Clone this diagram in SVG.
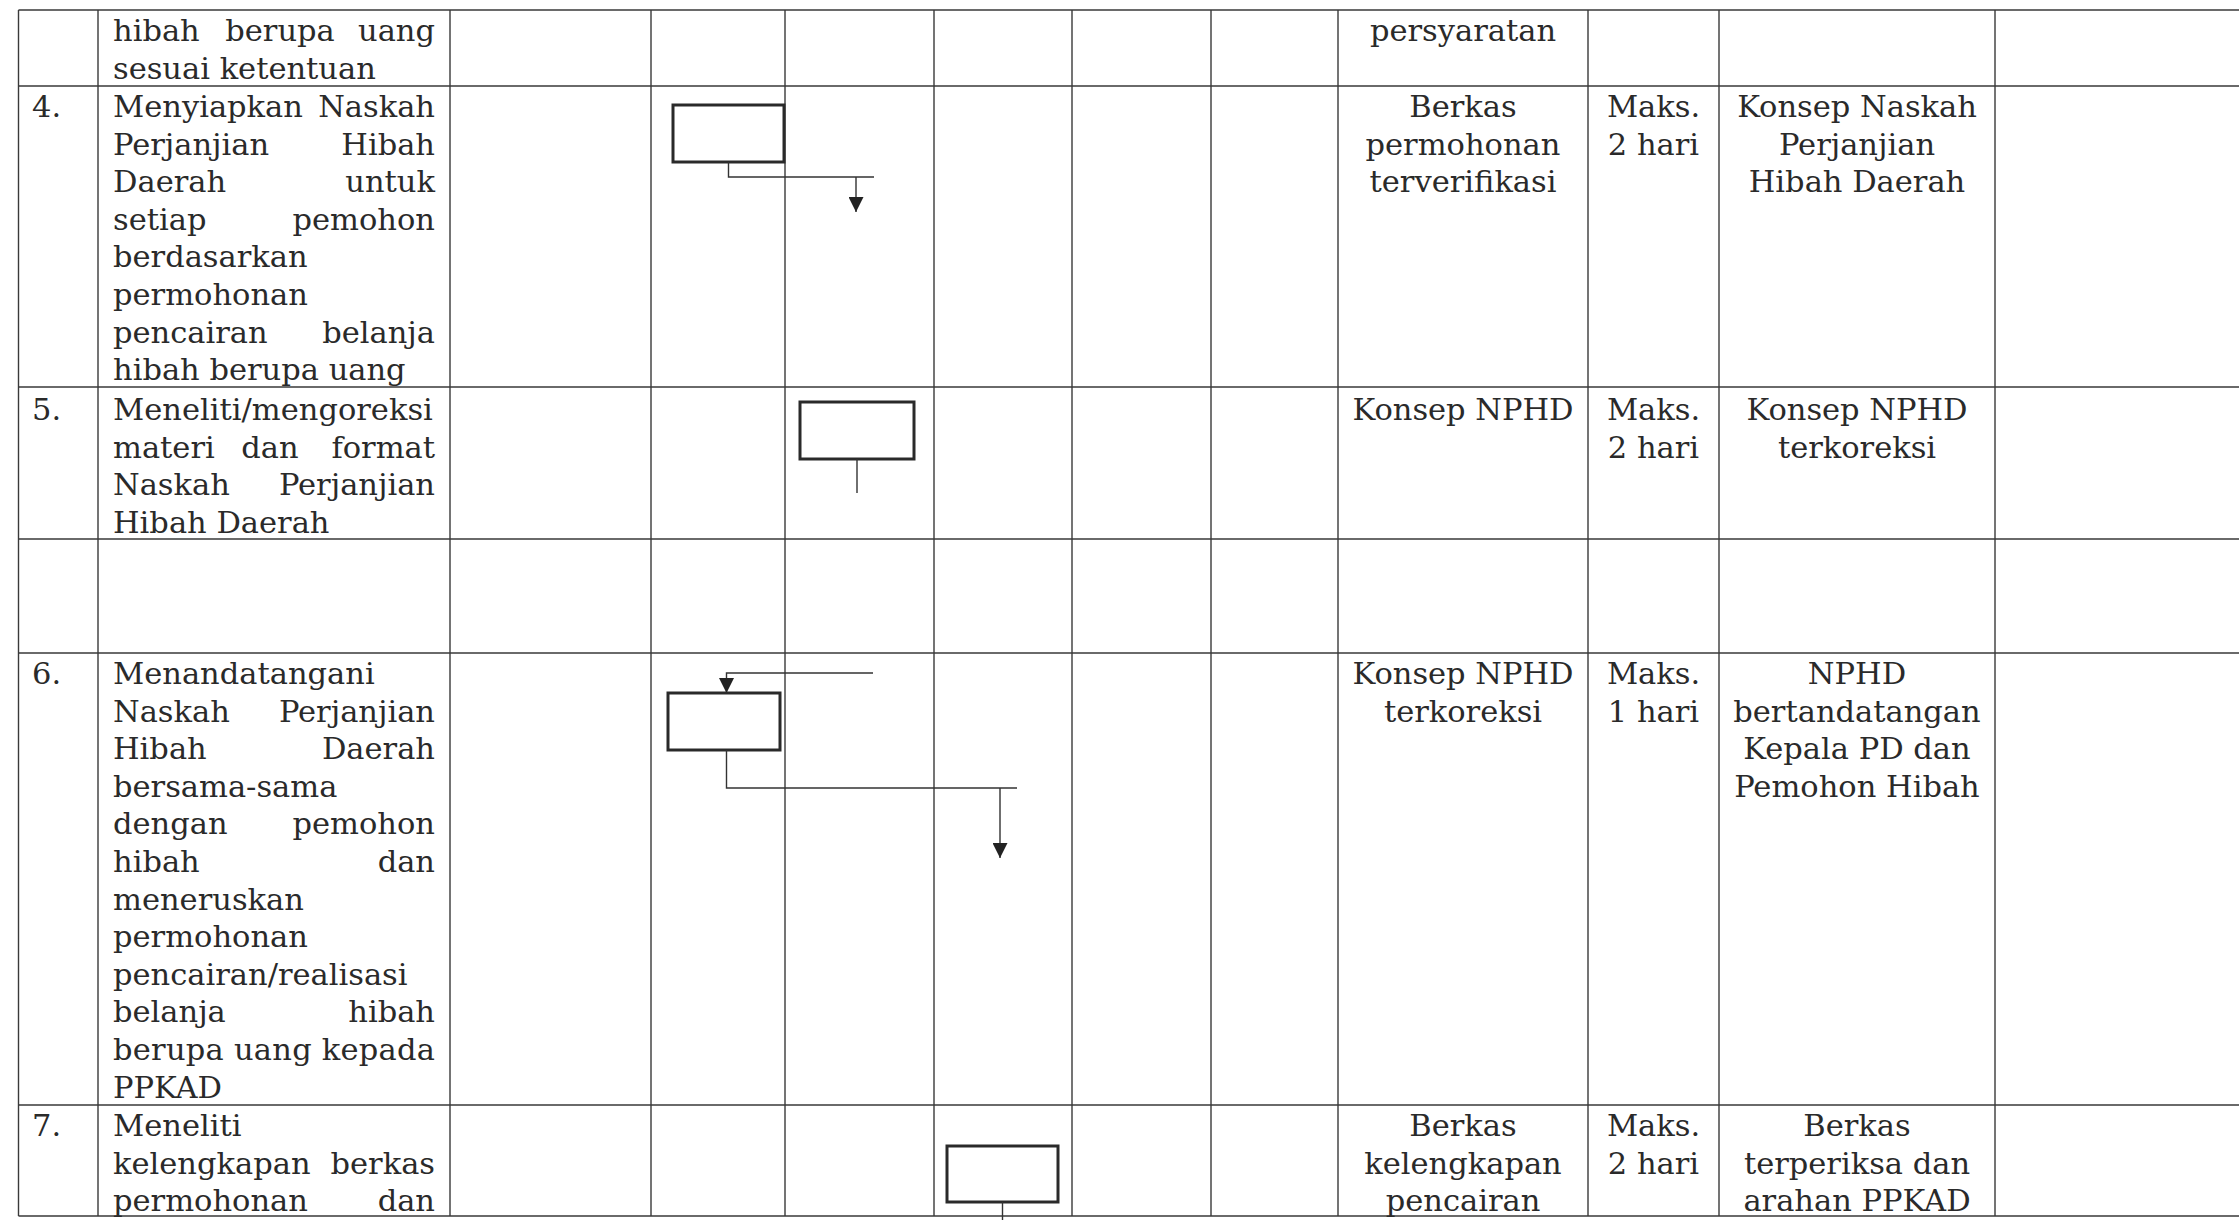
<svg xmlns="http://www.w3.org/2000/svg" width="2239" height="1220" viewBox="0 0 2239 1220">
<style>
.bg{fill:#ffffff}
.g{stroke:#3a3a3a;stroke-width:1.4;fill:none}
.box{fill:none;stroke:#2a2a2a;stroke-width:3}
.cn{fill:none;stroke:#333;stroke-width:1.4}
.t{font-family:"DejaVu Serif","Liberation Serif",serif;font-size:30.5px;fill:#2a2a2a}
.c{text-anchor:middle}
.e{text-anchor:end}
</style>
<defs>
<marker id="ah" viewBox="0 0 10 10" refX="10" refY="5" markerUnits="userSpaceOnUse" markerWidth="18" markerHeight="15" orient="auto">
<path d="M0,0 L10,5 L0,10 z" fill="#222"/>
</marker>
</defs>
<rect class="bg" x="0" y="0" width="2239" height="1220"/>
<g id="grid" class="g">
<path d="M18.5,10 H2239 M18.5,86 H2239 M18.5,387 H2239 M18.5,539 H2239 M18.5,653 H2239 M18.5,1105 H2239 M18.5,1216 H2239"/>
<path d="M18.5,10 V1216 M98,10 V1216 M450,10 V1216 M651,10 V1216 M785,10 V1216 M934,10 V1216 M1072,10 V1216 M1211,10 V1216 M1338,10 V1216 M1588,10 V1216 M1719,10 V1216 M1995,10 V1216"/>
</g>
<g id="row3-text">
<text class="t" x="113" y="41">hibah</text><text class="t c" x="280" y="41">berupa</text><text class="t e" x="435" y="41">uang</text>
<text class="t" x="113" y="79">sesuai ketentuan</text>
<text class="t c" x="1463" y="41">persyaratan</text>
</g>
<g id="row4-text">
<text class="t" x="32" y="117">4.</text>
<text class="t" x="113" y="117">Menyiapkan</text><text class="t e" x="435" y="117">Naskah</text>
<text class="t" x="113" y="154.6">Perjanjian</text><text class="t e" x="435" y="154.6">Hibah</text>
<text class="t" x="113" y="192.2">Daerah</text><text class="t e" x="435" y="192.2">untuk</text>
<text class="t" x="113" y="229.8">setiap</text><text class="t e" x="435" y="229.8">pemohon</text>
<text class="t" x="113" y="267.4">berdasarkan</text>
<text class="t" x="113" y="305">permohonan</text>
<text class="t" x="113" y="342.6">pencairan</text><text class="t e" x="435" y="342.6">belanja</text>
<text class="t" x="113" y="380.2">hibah berupa uang</text>
<text class="t c" x="1463" y="117">Berkas</text>
<text class="t c" x="1463" y="154.6">permohonan</text>
<text class="t c" x="1463" y="192.2">terverifikasi</text>
<text class="t c" x="1653.5" y="117">Maks.</text>
<text class="t c" x="1653.5" y="154.6">2 hari</text>
<text class="t c" x="1857" y="117">Konsep Naskah</text>
<text class="t c" x="1857" y="154.6">Perjanjian</text>
<text class="t c" x="1857" y="192.2">Hibah Daerah</text>
</g>
<g id="row5-text">
<text class="t" x="32" y="420">5.</text>
<text class="t" x="113" y="420">Meneliti/mengoreksi</text>
<text class="t" x="113" y="457.6">materi</text><text class="t c" x="270" y="457.6">dan</text><text class="t e" x="435" y="457.6">format</text>
<text class="t" x="113" y="495.2">Naskah</text><text class="t e" x="435" y="495.2">Perjanjian</text>
<text class="t" x="113" y="532.8">Hibah Daerah</text>
<text class="t c" x="1463" y="420">Konsep NPHD</text>
<text class="t c" x="1653.5" y="420">Maks.</text>
<text class="t c" x="1653.5" y="457.6">2 hari</text>
<text class="t c" x="1857" y="420">Konsep NPHD</text>
<text class="t c" x="1857" y="457.6">terkoreksi</text>
</g>
<g id="row7-text">
<text class="t" x="32" y="684">6.</text>
<text class="t" x="113" y="684">Menandatangani</text>
<text class="t" x="113" y="721.6">Naskah</text><text class="t e" x="435" y="721.6">Perjanjian</text>
<text class="t" x="113" y="759.2">Hibah</text><text class="t e" x="435" y="759.2">Daerah</text>
<text class="t" x="113" y="796.8">bersama-sama</text>
<text class="t" x="113" y="834.4">dengan</text><text class="t e" x="435" y="834.4">pemohon</text>
<text class="t" x="113" y="872">hibah</text><text class="t e" x="435" y="872">dan</text>
<text class="t" x="113" y="909.6">meneruskan</text>
<text class="t" x="113" y="947.2">permohonan</text>
<text class="t" x="113" y="984.8">pencairan/realisasi</text>
<text class="t" x="113" y="1022.4">belanja</text><text class="t e" x="435" y="1022.4">hibah</text>
<text class="t" x="113" y="1060" textLength="322" lengthAdjust="spacing">berupa uang kepada</text>
<text class="t" x="113" y="1097.6">PPKAD</text>
<text class="t c" x="1463" y="684">Konsep NPHD</text>
<text class="t c" x="1463" y="721.6">terkoreksi</text>
<text class="t c" x="1653.5" y="684">Maks.</text>
<text class="t c" x="1653.5" y="721.6">1 hari</text>
<text class="t c" x="1857" y="684">NPHD</text>
<text class="t c" x="1857" y="721.6">bertandatangan</text>
<text class="t c" x="1857" y="759.2">Kepala PD dan</text>
<text class="t c" x="1857" y="796.8">Pemohon Hibah</text>
</g>
<g id="row8-text">
<text class="t" x="32" y="1136">7.</text>
<text class="t" x="113" y="1136">Meneliti</text>
<text class="t" x="113" y="1173.6">kelengkapan</text><text class="t e" x="435" y="1173.6">berkas</text>
<text class="t" x="113" y="1211.2">permohonan</text><text class="t e" x="435" y="1211.2">dan</text>
<text class="t c" x="1463" y="1136">Berkas</text>
<text class="t c" x="1463" y="1173.6">kelengkapan</text>
<text class="t c" x="1463" y="1211.2">pencairan</text>
<text class="t c" x="1653.5" y="1136">Maks.</text>
<text class="t c" x="1653.5" y="1173.6">2 hari</text>
<text class="t c" x="1857" y="1136">Berkas</text>
<text class="t c" x="1857" y="1173.6">terperiksa dan</text>
<text class="t c" x="1857" y="1211.2">arahan PPKAD</text>
</g>
<g id="node-step4"><rect class="box" x="673" y="105" width="111" height="57"/></g>
<g id="node-step5"><rect class="box" x="800" y="402" width="114" height="57"/></g>
<g id="node-step6"><rect class="box" x="668" y="693" width="112" height="57"/></g>
<g id="node-step7"><rect class="box" x="947" y="1146" width="111" height="56"/></g>
<g id="connectors" class="cn">
<path d="M728.5,162 V177 H874 M856,177 V212" marker-end="url(#ah)"/>
<path d="M857,459 V493"/>
<path d="M873,673 H726.5 V693" marker-end="url(#ah)"/>
<path d="M726.5,750 V788 H1017 M1000,788 V858" marker-end="url(#ah)"/>
<path d="M1002.5,1202 V1220"/>
</g>
</svg>
